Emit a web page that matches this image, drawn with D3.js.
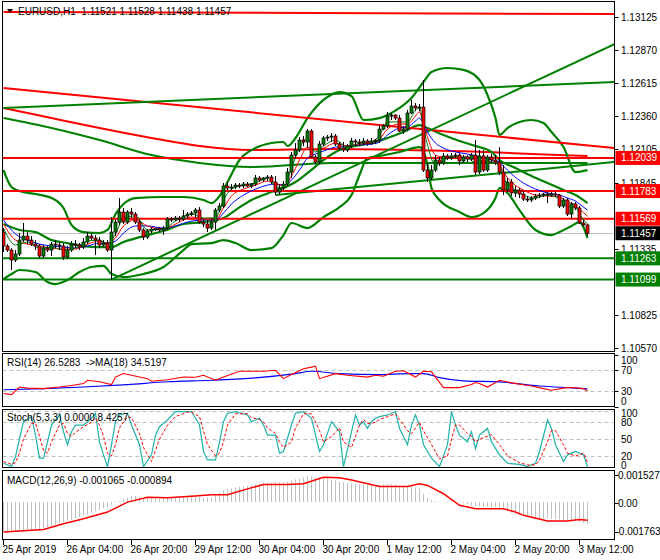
<!DOCTYPE html>
<html><head><meta charset="utf-8">
<script src="https://cdn.jsdelivr.net/npm/d3@7/dist/d3.min.js"></script>
<style>
body{margin:0;background:#fff}
svg{display:block}
text{font-family:"Liberation Sans",Arial,sans-serif;font-size:10px;fill:#000;white-space:pre}
</style></head>
<body><svg id="c" width="660" height="560"></svg>
<script>
// ---------------- DATA ----------------
const symbolTitle = "EURUSD,H1  1.11521 1.11528 1.11438 1.11457";
const timeTickIdx = [0,16,32,48,64,80,96,112,128,144];
const timeTickLabels = ["25 Apr 2019","26 Apr 04:00","26 Apr 20:00","29 Apr 12:00","30 Apr 04:00","30 Apr 20:00","1 May 12:00","2 May 04:00","2 May 20:00","3 May 12:00"];
const priceTicks = [1.13125,1.12870,1.12615,1.12360,1.12105,1.11845,1.11335,1.10825,1.10570];

const open = [1.11466,1.11358,1.11327,1.11250,1.11296,1.11404,1.11435,1.11404,1.11373,1.11358,1.11281,1.11342,1.11327,1.11373,1.11366,1.11358,1.11273,1.11327,1.11373,1.11366,1.11350,1.11389,1.11435,1.11420,1.11404,1.11366,1.11381,1.11327,1.11466,1.11543,1.11621,1.11543,1.11621,1.11605,1.11543,1.11482,1.11427,1.11474,1.11489,1.11492,1.11482,1.11497,1.11567,1.11560,1.11574,1.11567,1.11590,1.11605,1.11613,1.11636,1.11543,1.11528,1.11497,1.11543,1.11636,1.11667,1.11822,1.11806,1.11814,1.11829,1.11822,1.11837,1.11822,1.11837,1.11884,1.11868,1.11884,1.11891,1.11853,1.11775,1.11806,1.11837,1.11930,1.12061,1.12100,1.12177,1.12162,1.12247,1.12046,1.12007,1.12146,1.12193,1.12200,1.12208,1.12146,1.12115,1.12100,1.12131,1.12170,1.12162,1.12154,1.12170,1.12154,1.12170,1.12177,1.12262,1.12286,1.12363,1.12370,1.12347,1.12247,1.12262,1.12386,1.12440,1.12425,1.12432,1.11945,1.11884,1.11945,1.12023,1.12000,1.12054,1.12038,1.12054,1.12061,1.12015,1.12046,1.12030,1.12061,1.11930,1.12054,1.11945,1.12046,1.12023,1.12007,1.11930,1.11791,1.11853,1.11768,1.11791,1.11760,1.11721,1.11714,1.11729,1.11744,1.11752,1.11760,1.11752,1.11760,1.11752,1.11667,1.11714,1.11605,1.11683,1.11652,1.11536,1.11521];
const high = [1.11497,1.11373,1.11342,1.11327,1.11458,1.11536,1.11466,1.11435,1.11404,1.11373,1.11366,1.11358,1.11389,1.11404,1.11389,1.11381,1.11358,1.11396,1.11404,1.11381,1.11420,1.11466,1.11458,1.11443,1.11427,1.11404,1.11404,1.11582,1.11559,1.11729,1.11652,1.11636,1.11652,1.11621,1.11559,1.11497,1.11489,1.11505,1.11497,1.11505,1.11513,1.11582,1.11582,1.11590,1.11590,1.11636,1.11621,1.11628,1.11652,1.11659,1.11567,1.11559,1.11574,1.11652,1.11690,1.11845,1.11853,1.11837,1.11845,1.11845,1.11853,1.11853,1.11845,1.11907,1.11899,1.11891,1.11907,1.11907,1.11899,1.11837,1.11860,1.11961,1.12085,1.12154,1.12200,1.12208,1.12262,1.12262,1.12061,1.12170,1.12208,1.12216,1.12231,1.12224,1.12162,1.12162,1.12146,1.12193,1.12185,1.12185,1.12193,1.12185,1.12193,1.12185,1.12293,1.12301,1.12394,1.12386,1.12378,1.12371,1.12286,1.12409,1.12487,1.12463,1.12456,1.12641,1.12000,1.11984,1.12061,1.12046,1.12077,1.12069,1.12077,1.12077,1.12077,1.12061,1.12061,1.12077,1.12177,1.12100,1.12100,1.12061,1.12069,1.12061,1.12123,1.11984,1.11884,1.11876,1.11822,1.11806,1.11783,1.11744,1.11744,1.11760,1.11768,1.11768,1.11775,1.11775,1.11775,1.11760,1.11729,1.11729,1.11698,1.11698,1.11667,1.11559,1.11528];
const low = [1.11312,1.11312,1.11173,1.11234,1.11281,1.11389,1.11373,1.11358,1.11327,1.11265,1.11265,1.11312,1.11281,1.11342,1.11327,1.11250,1.11257,1.11312,1.11342,1.11327,1.11335,1.11373,1.11404,1.11288,1.11342,1.11350,1.11312,1.11099,1.11435,1.11521,1.11528,1.11528,1.11574,1.11528,1.11466,1.11404,1.11412,1.11458,1.11474,1.11466,1.11443,1.11482,1.11543,1.11551,1.11543,1.11551,1.11567,1.11590,1.11574,1.11528,1.11505,1.11466,1.11482,1.11482,1.11621,1.11652,1.11791,1.11791,1.11798,1.11806,1.11806,1.11814,1.11806,1.11822,1.11853,1.11853,1.11860,1.11837,1.11752,1.11752,1.11791,1.11822,1.11884,1.12038,1.12085,1.12131,1.12115,1.12038,1.11992,1.11992,1.12131,1.12170,1.12162,1.12131,1.12100,1.12085,1.12085,1.12115,1.12131,1.12131,1.12139,1.12131,1.12139,1.12146,1.12154,1.12255,1.12270,1.12332,1.12332,1.12239,1.12224,1.12247,1.12378,1.12401,1.12401,1.11930,1.11853,1.11868,1.11930,1.11976,1.11984,1.12023,1.12023,1.12038,1.11984,1.12000,1.12007,1.12015,1.11907,1.11915,1.11930,1.11930,1.12000,1.11984,1.11907,1.11752,1.11775,1.11744,1.11737,1.11729,1.11706,1.11698,1.11698,1.11714,1.11729,1.11737,1.11690,1.11737,1.11737,1.11652,1.11652,1.11590,1.11567,1.11636,1.11528,1.11513,1.11438];
const close = [1.11358,1.11327,1.11250,1.11296,1.11404,1.11435,1.11404,1.11373,1.11358,1.11281,1.11342,1.11327,1.11373,1.11366,1.11358,1.11273,1.11327,1.11373,1.11366,1.11350,1.11389,1.11435,1.11420,1.11404,1.11366,1.11381,1.11327,1.11466,1.11543,1.11621,1.11543,1.11621,1.11605,1.11543,1.11482,1.11427,1.11474,1.11489,1.11492,1.11482,1.11497,1.11567,1.11560,1.11574,1.11567,1.11590,1.11605,1.11613,1.11636,1.11543,1.11528,1.11497,1.11543,1.11636,1.11667,1.11822,1.11806,1.11814,1.11829,1.11822,1.11837,1.11822,1.11837,1.11884,1.11868,1.11884,1.11891,1.11853,1.11775,1.11806,1.11837,1.11930,1.12061,1.12100,1.12177,1.12162,1.12247,1.12046,1.12007,1.12146,1.12193,1.12200,1.12208,1.12146,1.12115,1.12100,1.12131,1.12170,1.12162,1.12154,1.12170,1.12154,1.12170,1.12177,1.12262,1.12286,1.12363,1.12370,1.12347,1.12247,1.12262,1.12386,1.12440,1.12425,1.12432,1.11945,1.11884,1.11945,1.12023,1.12000,1.12054,1.12038,1.12054,1.12061,1.12015,1.12046,1.12030,1.12061,1.11930,1.12054,1.11945,1.12046,1.12023,1.12007,1.11930,1.11791,1.11853,1.11768,1.11791,1.11760,1.11721,1.11714,1.11729,1.11744,1.11752,1.11760,1.11752,1.11760,1.11752,1.11667,1.11714,1.11605,1.11683,1.11652,1.11536,1.11521,1.11457];

// thin moving averages (read at sampled bars)
const maIdx = [0,3,6,9,12,15,18,21,24,26,28,30,33,36,40,43,47,50,53,55,57,60,63,66,68,70,72,74,76,78,80,83,86,89,92,94,96,99,101,103,104,105,106,108,110,113,116,118,120,122,124,125,127,130,133,136,139,141,143,144,146];
const maGreen = [1.11497,1.11366,1.11389,1.11342,1.11350,1.11327,1.11342,1.11396,1.11404,1.11373,1.11451,1.11574,1.11590,1.11482,1.11489,1.11551,1.11605,1.11574,1.11574,1.11714,1.11798,1.11829,1.11845,1.11884,1.11822,1.11806,1.11961,1.12115,1.12193,1.12085,1.12131,1.12177,1.12123,1.12154,1.12162,1.12216,1.12317,1.12317,1.12317,1.12409,1.12425,1.12270,1.12139,1.11984,1.12023,1.12046,1.12038,1.12000,1.12000,1.12007,1.11976,1.11884,1.11814,1.11752,1.11729,1.11752,1.11721,1.11667,1.11659,1.11605,1.11528];
const maRed = [1.11528,1.11404,1.11373,1.11358,1.11342,1.11335,1.11335,1.11373,1.11396,1.11381,1.11420,1.11513,1.11559,1.11513,1.11489,1.11528,1.11582,1.11567,1.11559,1.11652,1.11744,1.11798,1.11829,1.11860,1.11845,1.11822,1.11899,1.12023,1.12123,1.12100,1.12115,1.12154,1.12131,1.12146,1.12154,1.12185,1.12262,1.12301,1.12301,1.12363,1.12394,1.12293,1.12200,1.12061,1.12046,1.12046,1.12046,1.12023,1.12015,1.12007,1.11992,1.11930,1.11853,1.11791,1.11752,1.11744,1.11737,1.11698,1.11675,1.11644,1.11590];
const maBlue = [1.11559,1.11451,1.11404,1.11373,1.11358,1.11350,1.11342,1.11358,1.11381,1.11381,1.11396,1.11458,1.11513,1.11513,1.11497,1.11513,1.11551,1.11559,1.11559,1.11613,1.11683,1.11752,1.11798,1.11829,1.11837,1.11829,1.11868,1.11945,1.12038,1.12069,1.12092,1.12123,1.12131,1.12139,1.12146,1.12162,1.12216,1.12270,1.12278,1.12324,1.12347,1.12301,1.12239,1.12154,1.12115,1.12085,1.12069,1.12054,1.12038,1.12023,1.12007,1.11976,1.11915,1.11845,1.11798,1.11768,1.11752,1.11729,1.11706,1.11683,1.11636];

// Bollinger bands (read at sampled bars)
const bbUpIdx = [0,2,4,8,12,15,17,20,24,26,28,30,33,40,45,50,52,54,56,59,63,67,70,71,73,76,80,84,87,90,94,99,102,105,107,111,115,119,121,123,124,126,129,132,135,137,140,143,146];
const bbUpper = [1.11945,1.11814,1.11783,1.11760,1.11729,1.11652,1.11521,1.11466,1.11458,1.11482,1.11605,1.11683,1.11729,1.11737,1.11737,1.11714,1.11690,1.11744,1.11853,1.12023,1.12115,1.12154,1.12162,1.12131,1.12193,1.12347,1.12487,1.12548,1.12517,1.12332,1.12347,1.12425,1.12502,1.12626,1.12703,1.12734,1.12719,1.12641,1.12525,1.12347,1.12216,1.12270,1.12317,1.12332,1.12309,1.12239,1.12123,1.11930,1.11945];
const bbMidIdx = [0,4,8,12,16,20,24,27,30,35,40,45,50,55,58,62,67,70,73,76,80,84,88,92,96,100,104,106,110,114,118,122,124,128,132,136,140,143,146];
const bbMiddle = [1.11528,1.11482,1.11466,1.11404,1.11381,1.11358,1.11350,1.11350,1.11389,1.11435,1.11474,1.11528,1.11543,1.11574,1.11636,1.11714,1.11775,1.11806,1.11853,1.11922,1.12023,1.12100,1.12131,1.12154,1.12193,1.12239,1.12293,1.12270,1.12216,1.12170,1.12131,1.12085,1.12023,1.11961,1.11899,1.11845,1.11791,1.11752,1.11690];
const bbLoIdx = [0,2,4,8,11,13,16,19,22,25,27,30,35,40,45,47,52,55,58,62,67,70,72,76,80,84,87,89,91,94,99,104,106,107,109,114,117,120,123,124,126,129,133,137,139,142,144,146];
const bbLower = [1.11103,1.11142,1.11173,1.11157,1.11080,1.11064,1.11095,1.11157,1.11196,1.11204,1.11142,1.11118,1.11142,1.11196,1.11327,1.11373,1.11381,1.11404,1.11381,1.11327,1.11342,1.11443,1.11536,1.11497,1.11582,1.11659,1.11752,1.11907,1.12038,1.12054,1.12085,1.12123,1.11984,1.11806,1.11714,1.11621,1.11582,1.11613,1.11729,1.11806,1.11768,1.11636,1.11482,1.11443,1.11466,1.11513,1.11543,1.11420];

// long moving averages
const longIdx = [0,12,24,37,49,62,82,112,146];
const longRed = [1.12425,1.12347,1.12270,1.12193,1.12131,1.12100,1.12108,1.12092,1.12054];
const longGreen = [1.12347,1.12270,1.12177,1.12061,1.12000,1.11969,1.12000,1.12000,1.12000];

// drawn trend lines [barIndex, price]
const trendRedTop = [[0,1.13167],[152.75,1.13151]];
const trendRedDown = [[0,1.12579],[152.75,1.12115]];
const trendGreenFlat = [[0,1.12425],[152.75,1.12626]];
const trendGreenUp = [[27,1.11099],[152.75,1.12919]];
const trendGreenLows = [[68,1.11752],[152.75,1.12007]];
const redLevels = [1.12039,1.11783,1.11569];
const greenLevels = [1.11263,1.11099];
const bidPrice = 1.11457;

// RSI
const rsiIdx = [0,2,4,6,10,14,17,20,21,24,27,28,30,34,36,37,41,45,48,50,53,55,59,64,65,68,70,72,75,77,78,79,83,86,91,93,95,98,100,103,105,107,110,114,117,118,119,121,124,127,132,135,137,140,142,145,146];
const rsiVals = [25.6,23.6,38,36,35,38,41,44.6,51,48,42.7,57,63.7,57,54,49,52,57,56.7,60.5,51,57,68,68,68,70,54,62,73,76,78,54,63.6,60.5,57,60.5,58.6,68,69,57,68,67,37,37,42.7,46.5,44.6,38,51,46,40,35,32,36,37,35,30.6,35,26.5];
const rsiMaIdx = [0,10,20,31,41,52,63,73,77,84,94,101,105,109,115,124,134,143,146];
const rsiMa = [33,35,38,42.7,48,51,55.4,63.6,68,63.6,61.7,63.6,63.6,56,49.7,47.8,40,36,34.5];

// Stochastic
const stochKIdx = [0,2,3,4,5,7,8,9,10,11,12,14,15,16,17,18,20,22,23,24,25,26,27,28,29,31,32,34,35,37,38,39,41,43,46,47,49,50,51,53,54,55,56,58,61,62,64,65,66,68,69,70,72,73,75,77,79,80,82,84,85,87,88,89,90,91,92,93,94,96,98,99,101,102,103,104,105,107,109,111,112,113,114,116,117,118,119,121,122,124,126,129,131,133,134,136,137,138,140,141,143,145,146];
const stochK = [7,1,19,51,81,90,57,16,16,45,75,93,63,40,63,75,75,87,96,45,22,1,40,81,93,96,75,40,1,22,57,72,84,99,99,99,75,28,13,13,45,81,96,99,93,81,87,75,57,57,25,28,75,96,99,87,28,40,81,63,1,63,93,75,81,69,81,87,90,93,99,69,40,75,93,75,40,16,1,40,99,75,57,45,63,33,57,69,45,22,7,5,1,7,28,84,69,40,10,22,28,22,0];
const stochDIdx = stochKIdx;
const stochD = [10,5,8,25,50,78,78,55,30,25,45,75,78,60,55,62,72,80,88,75,55,25,20,40,70,90,88,60,35,10,30,50,75,90,98,98,90,65,40,20,25,45,75,95,95,88,85,80,70,60,45,35,45,70,95,95,65,45,55,70,45,35,55,75,85,78,78,80,85,90,95,85,65,60,70,80,65,40,15,20,50,75,75,60,55,45,50,55,58,40,20,8,4,4,12,45,65,65,40,25,20,25,8.4];

// MACD
const macdHist = [-0.00147,-0.00148,-0.00149,-0.00148,-0.00146,-0.00144,-0.00142,-0.00139,-0.00136,-0.00133,-0.00128,-0.00122,-0.00118,-0.00112,-0.00105,-0.00098,-0.00092,-0.00086,-0.00080,-0.00074,-0.00066,-0.00060,-0.00052,-0.00045,-0.00038,-0.00031,-0.00025,-0.00012,-0.00004,0.00004,0.00014,0.00022,0.00030,0.00030,0.00026,0.00022,0.00018,0.00016,0.00016,0.00017,0.00018,0.00020,0.00022,0.00024,0.00026,0.00028,0.00030,0.00032,0.00030,0.00024,0.00022,0.00022,0.00026,0.00036,0.00046,0.00058,0.00064,0.00068,0.00072,0.00075,0.00078,0.00082,0.00085,0.00088,0.00090,0.00092,0.00094,0.00096,0.00098,0.00096,0.00096,0.00100,0.00106,0.00112,0.00116,0.00122,0.00128,0.00126,0.00120,0.00118,0.00116,0.00114,0.00110,0.00106,0.00100,0.00096,0.00094,0.00092,0.00090,0.00088,0.00086,0.00084,0.00082,0.00082,0.00084,0.00086,0.00088,0.00090,0.00086,0.00080,0.00078,0.00078,0.00076,0.00072,0.00070,0.00040,0.00020,0.00010,0.00006,0.00002,0.00000,-0.00002,-0.00004,-0.00004,-0.00004,-0.00006,-0.00008,-0.00016,-0.00020,-0.00022,-0.00022,-0.00024,-0.00024,-0.00024,-0.00030,-0.00040,-0.00046,-0.00052,-0.00058,-0.00062,-0.00066,-0.00072,-0.00076,-0.00080,-0.00082,-0.00082,-0.00082,-0.00082,-0.00084,-0.00086,-0.00088,-0.00090,-0.00092,-0.00094,-0.00098,-0.00102,-0.001065];
const macdSigIdx = [0,10,15,20,26,31,36,41,47,52,56,61,65,71,75,80,84,87,94,101,104,106,110,114,118,125,128,130,136,141,144,146];
const macdSignal = [-0.00147,-0.00134,-0.00106,-0.00082,-0.00049,0,0.00024,0.00021,0.00029,0.00036,0.00036,0.00065,0.00086,0.00086,0.00090,0.00122,0.00119,0.00109,0.00077,0.00077,0.00090,0.00082,0.00041,-0.00016,-0.00033,-0.00033,-0.00049,-0.00065,-0.00093,-0.00093,-0.00085,-0.000894];

// ---------------- DRAW ----------------
const svg = d3.select("#c");
const L = 2.5, R = 614.5;
const panes = {
  main:{top:1.5,bottom:351.5},
  rsi:{top:353.5,bottom:406.5},
  sto:{top:409.5,bottom:467.5},
  macd:{top:470.5,bottom:539.5}
};
const x = d3.scaleLinear().domain([0,152.75]).range([3.5,614.5]);
const y = d3.scaleLinear().domain([1.1057,1.13125]).range([348,17.4]);
const yR = d3.scaleLinear().domain([0,100]).range([407,354.5]);
const yS = d3.scaleLinear().domain([0,100]).range([467.2,411]);
const yM = d3.scaleLinear().domain([-0.001763,0.001527]).range([538,471]);

const GREEN="#008000", RED="#ff0000", BLUE="#0000ff", GRAY="#c0c0c0", TEAL="#20b2aa";

const defs = svg.append("defs");
Object.entries(panes).forEach(([k,p])=>{
  defs.append("clipPath").attr("id","clip-"+k).append("rect")
    .attr("x",L+0.5).attr("y",p.top+0.5).attr("width",R-L-1).attr("height",p.bottom-p.top-1);
});
const gMain = svg.append("g").attr("clip-path","url(#clip-main)");

gMain.append("line").attr("x1",L).attr("x2",R).attr("y1",Math.round(y(bidPrice))+0.5).attr("y2",Math.round(y(bidPrice))+0.5)
  .attr("stroke",GRAY).attr("stroke-width",1);

const seg = (g,pts,color,w)=> g.append("line")
  .attr("x1",x(pts[0][0])).attr("y1",y(pts[0][1])).attr("x2",x(pts[1][0])).attr("y2",y(pts[1][1]))
  .attr("stroke",color).attr("stroke-width",w);

const lineGen = (xs,ys,sy)=> d3.line().x((d,i)=>x(xs[i])).y(d=>sy(d)).curve(d3.curveMonotoneX)(ys);
const pathSeries = (g,xs,ys,sy,color,w,dash)=>{
  const p = g.append("path").attr("d",lineGen(xs,ys,sy)).attr("fill","none").attr("stroke",color).attr("stroke-width",w).attr("stroke-linejoin","round");
  if(dash) p.attr("stroke-dasharray",dash);
  return p;
};

pathSeries(gMain,longIdx,longGreen,y,GREEN,2);
pathSeries(gMain,longIdx,longRed,y,RED,2);
pathSeries(gMain,bbUpIdx,bbUpper,y,GREEN,2.2);
pathSeries(gMain,bbMidIdx,bbMiddle,y,GREEN,2.2);
pathSeries(gMain,bbLoIdx,bbLower,y,GREEN,2.2);
seg(gMain,trendRedTop,RED,2);
seg(gMain,trendRedDown,RED,2);
seg(gMain,trendGreenFlat,GREEN,2);
seg(gMain,trendGreenUp,GREEN,2);
seg(gMain,trendGreenLows,GREEN,2);
redLevels.forEach(p=> gMain.append("line").attr("x1",L).attr("x2",R).attr("y1",y(p)).attr("y2",y(p)).attr("stroke",RED).attr("stroke-width",2));
greenLevels.forEach(p=> gMain.append("line").attr("x1",L).attr("x2",R).attr("y1",y(p)).attr("y2",y(p)).attr("stroke",GREEN).attr("stroke-width",2));

pathSeries(gMain,maIdx,maBlue,y,BLUE,1);
pathSeries(gMain,maIdx,maRed,y,RED,1);
pathSeries(gMain,maIdx,maGreen,y,GREEN,1);

const bars = d3.range(close.length);
const cg = gMain.append("g");
bars.forEach(i=>{
  const cx = x(i);
  cg.append("line").attr("x1",cx).attr("x2",cx).attr("y1",y(high[i])).attr("y2",y(low[i])).attr("stroke","#000").attr("stroke-width",1);
  const top = y(Math.max(open[i],close[i])), bot = y(Math.min(open[i],close[i]));
  cg.append("rect").attr("x",cx-1.5).attr("y",top).attr("width",3).attr("height",Math.max(1,bot-top))
    .attr("fill", close[i]>=open[i]?GREEN:RED).attr("stroke","#000").attr("stroke-width",0.7);
});

svg.append("path").attr("d","M7,9 L13,9 L10,13 Z").attr("fill","#000");
svg.append("text").attr("x",18).attr("y",14.5).text(symbolTitle);

// RSI
const gR = svg.append("g").attr("clip-path","url(#clip-rsi)");
[70,30].forEach(v=> gR.append("line").attr("x1",L).attr("x2",R).attr("y1",Math.round(yR(v))+0.5).attr("y2",Math.round(yR(v))+0.5).attr("stroke",GRAY).attr("stroke-dasharray","4,3"));
pathSeries(gR,rsiMaIdx,rsiMa,yR,BLUE,1.1);
gR.append("path").attr("d",d3.line().x((d,i)=>x(rsiIdx[i])).y(d=>yR(d))(rsiVals)).attr("fill","none").attr("stroke",RED).attr("stroke-width",1.1);
svg.append("text").attr("x",7).attr("y",366).text("RSI(14) 26.5283  ->MA(18) 34.5197");

// Stoch
const gS = svg.append("g").attr("clip-path","url(#clip-sto)");
[100,80,50,20].forEach(v=> gS.append("line").attr("x1",L).attr("x2",R).attr("y1",Math.round(yS(v))+0.5).attr("y2",Math.round(yS(v))+0.5).attr("stroke",GRAY).attr("stroke-dasharray","4,3"));
gS.append("path").attr("d",d3.line().x((d,i)=>x(stochKIdx[i])).y(d=>yS(d))(stochK)).attr("fill","none").attr("stroke",TEAL).attr("stroke-width",1.2);
gS.append("path").attr("d",d3.line().x((d,i)=>x(stochDIdx[i])).y(d=>yS(d))(stochD)).attr("fill","none").attr("stroke",RED).attr("stroke-width",1).attr("stroke-dasharray","3,2");
svg.append("text").attr("x",7).attr("y",421).text("Stoch(5,3,3) 0.0000 8.4257");

// MACD
const gM = svg.append("g").attr("clip-path","url(#clip-macd)");
macdHist.forEach((v,i)=> gM.append("line").attr("x1",x(i)).attr("x2",x(i)).attr("y1",yM(0)).attr("y2",yM(v)).attr("stroke",GRAY).attr("stroke-width",1));
gM.append("path").attr("d",d3.line().x((d,i)=>x(macdSigIdx[i])).y(d=>yM(d))(macdSignal)).attr("fill","none").attr("stroke",RED).attr("stroke-width",1.5);
svg.append("text").attr("x",7).attr("y",484).text("MACD(12,26,9) -0.001065 -0.000894");

Object.values(panes).forEach(p=>{
  svg.append("rect").attr("x",L).attr("y",p.top).attr("width",R-L).attr("height",p.bottom-p.top)
    .attr("fill","none").attr("stroke","#000").attr("stroke-width",1);
});

const ax = svg.append("g");
priceTicks.forEach(v=>{
  const yy = Math.round(y(v))+0.5;
  ax.append("line").attr("x1",R).attr("x2",R+4).attr("y1",yy).attr("y2",yy).attr("stroke","#000");
  ax.append("text").attr("x",621).attr("y",yy+3.5).text(v.toFixed(5));
});
const tag = (p,color)=>{
  const yy = y(p);
  ax.append("rect").attr("x",R+1).attr("y",yy-7).attr("width",660-R).attr("height",14).attr("fill",color);
  ax.append("text").attr("x",621).attr("y",yy+3.5).style("fill","#fff").text(p.toFixed(5));
};
redLevels.forEach(p=>tag(p,RED));
greenLevels.forEach(p=>tag(p,GREEN));
tag(bidPrice,"#000");

[[100,360.7],[70,370.7],[30,391],[0,401.5]].forEach(([v,yy])=>{
  ax.append("text").attr("x",621).attr("y",yy+3.5).text(v);
});
[100,70,30,0].forEach(v=>{const yy=Math.round(yR(v))+0.5; ax.append("line").attr("x1",R).attr("x2",R+4).attr("y1",yy).attr("y2",yy).attr("stroke","#000");});
[[100,413],[80,422.3],[50,439.3],[20,456],[0,465]].forEach(([v,yy])=>{
  ax.append("text").attr("x",621).attr("y",yy+3.5).text(v);
});
[["0.001527",475],["0.00",503.3],["-0.001763",531.7]].forEach(([t,yy],k)=>{
  ax.append("text").attr("x",k===2?615.5:618).attr("y",yy+3.5).text(t);
  ax.append("line").attr("x1",R).attr("x2",R+4).attr("y1",Math.round(yy)+0.5).attr("y2",Math.round(yy)+0.5).attr("stroke","#000");
});

timeTickIdx.forEach((ti,k)=>{
  const xx = x(ti);
  ax.append("line").attr("x1",xx).attr("x2",xx).attr("y1",539.5).attr("y2",545).attr("stroke","#000");
  ax.append("text").attr("x",xx-1).attr("y",553).text(timeTickLabels[k]);
});
</script>
</body></html>
